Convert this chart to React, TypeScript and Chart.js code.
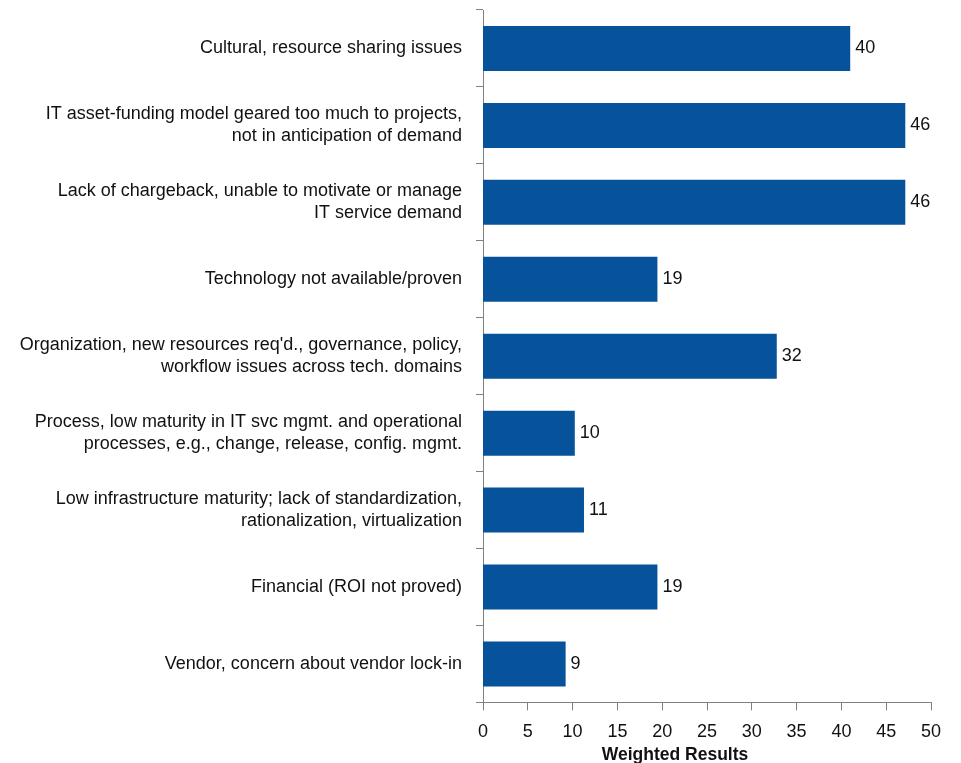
import React, { useEffect, useRef } from "react";
import { Chart, registerables } from "chart.js";

Chart.register(...registerables);

const categories: string[][] = [
  ["Cultural, resource sharing issues"],
  ["IT asset-funding model geared too much to projects,", "not in anticipation of demand"],
  ["Lack of chargeback, unable to motivate or manage", "IT service demand"],
  ["Technology not available/proven"],
  ["Organization, new resources req'd., governance, policy,", "workflow issues across tech. domains"],
  ["Process, low maturity in IT svc mgmt. and operational", "processes, e.g., change, release, config. mgmt."],
  ["Low infrastructure maturity; lack of standardization,", "rationalization, virtualization"],
  ["Financial (ROI not proved)"],
  ["Vendor, concern about vendor lock-in"],
];

const weightedResults: number[] = [40, 46, 46, 19, 32, 10, 11, 19, 9];

const axisTicks = { min: 0, max: 50, step: 5 };
const axisTitle = "Weighted Results";

const FONT = "'Liberation Sans', Arial, sans-serif";
const BAR_COLOR = "#06539c";
const AXIS_COLOR = "#808080";
const TEXT_COLOR = "#111111";

export default function App() {
  const ref = useRef<HTMLCanvasElement | null>(null);

  useEffect(() => {
    if (!ref.current) return;

    const valueLabels = {
      id: "valueLabels",
      afterDatasetsDraw(chart: any) {
        const ctx = chart.ctx;
        const meta = chart.getDatasetMeta(0);
        ctx.save();
        ctx.font = `18px ${FONT}`;
        ctx.fillStyle = TEXT_COLOR;
        ctx.textAlign = "left";
        ctx.textBaseline = "middle";
        meta.data.forEach((bar: any, i: number) => {
          ctx.fillText(String(weightedResults[i]), bar.x + 5, bar.y);
        });
        ctx.restore();
      },
    };

    const titlePlugin = {
      id: "axisTitle",
      afterDraw(chart: any) {
        const ctx = chart.ctx;
        const area = chart.chartArea;
        ctx.save();
        ctx.font = `bold 17.5px ${FONT}`;
        ctx.fillStyle = TEXT_COLOR;
        ctx.textAlign = "center";
        ctx.textBaseline = "middle";
        ctx.fillText(axisTitle, (area.left + area.right) / 2 - 32, area.bottom + 53);
        ctx.restore();
      },
    };

    const chart = new Chart(ref.current, {
      type: "bar",
      data: {
        labels: categories,
        datasets: [
          {
            data: weightedResults,
            backgroundColor: BAR_COLOR,
            borderWidth: 0,
            xAxisID: "x",
            categoryPercentage: 1,
            barPercentage: 0.585,
          },
        ],
      },
      options: {
        indexAxis: "y",
        animation: false,
        responsive: false,
        maintainAspectRatio: false,
        layout: { padding: { top: 10, right: 30, bottom: 9, left: 0 } },
        plugins: {
          legend: { display: false },
          tooltip: { enabled: false },
        },
        scales: {
          x: {
            type: "linear",
            display: false,
            min: 0,
            max: 48.8,
          },
          x2: {
            type: "linear",
            position: "bottom",
            min: axisTicks.min,
            max: axisTicks.max,
            border: { display: true, color: AXIS_COLOR, width: 1 },
            grid: {
              drawOnChartArea: false,
              drawTicks: true,
              tickLength: 8,
              color: AXIS_COLOR,
            },
            ticks: {
              stepSize: axisTicks.step,
              padding: 11,
              color: TEXT_COLOR,
              font: { family: FONT, size: 18 },
              maxRotation: 0,
            },
            afterFit(scale: any) {
              scale.paddingLeft = 0;
              scale.paddingRight = 0;
            },
          },
          y: {
            type: "category",
            border: { display: true, color: AXIS_COLOR, width: 1 },
            grid: {
              offset: true,
              drawOnChartArea: false,
              drawTicks: true,
              tickLength: 7,
              color: AXIS_COLOR,
            },
            ticks: {
              padding: 14,
              color: TEXT_COLOR,
              font: { family: FONT, size: 18, lineHeight: 1.22 },
              crossAlign: "near",
            },
            afterFit(scale: any) {
              scale.width = 483;
              scale.paddingTop = 0;
              scale.paddingBottom = 0;
            },
          },
        },
      },
      plugins: [valueLabels, titlePlugin],
    });

    return () => chart.destroy();
  }, []);

  return (
    <div style={{ position: "absolute", left: 0, top: 0, width: 961, height: 763 }}>
      <canvas ref={ref} width={961} height={763} style={{ width: 961, height: 763 }} />
    </div>
  );
}
